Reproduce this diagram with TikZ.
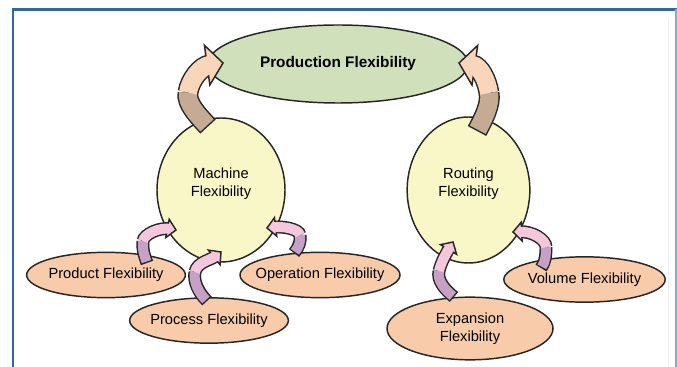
\documentclass[tikz,border=0pt]{standalone}
\usepackage{fontspec}
\setmainfont{Liberation Sans}
\usetikzlibrary{shapes.geometric,calc,decorations.markings}
\definecolor{FrameBlue}{HTML}{3566A6}
\definecolor{FrameLight}{HTML}{86AAD8}
\definecolor{GoalGreen}{HTML}{CFE0BA}
\definecolor{HubYellow}{HTML}{F9F7C7}
\definecolor{LeafPeach}{HTML}{F8CBAA}
\definecolor{ArrowTan}{HTML}{C6AB94}
\definecolor{ArrowPeach}{HTML}{F9D6BA}
\definecolor{ArrowMauve}{HTML}{C7A0C6}
\definecolor{ArrowPink}{HTML}{F4C7DD}

\tikzset{
  goal/.style={ellipse, draw=black!85, line width=1.1pt, fill=GoalGreen, inner sep=0pt,
    minimum width=195pt, minimum height=58.5pt, font=\fontsize{11.5}{14}\selectfont\bfseries},
  hub/.style={ellipse, draw=black!85, line width=1.1pt, fill=HubYellow, inner sep=0pt,
    minimum width=96pt, minimum height=108pt},
  hubtext/.style={align=center, yshift=5pt, font=\fontsize{11}{13.5}\selectfont},
  leaf/.style={ellipse, draw=black!85, line width=1.1pt, fill=LeafPeach, inner xsep=-20pt,
    inner ysep=0pt, minimum width=119pt, minimum height=34pt, align=center,
    font=\fontsize{11}{13.5}\selectfont},
  % shafts of the bent block arrows
  big rim/.style={line width=15.7pt, draw=black!85},
  big body/.style={line width=13.5pt},
  big end/.style={shorten >=10pt},
  small rim/.style={line width=9.7pt, draw=black!85},
  small body/.style={line width=7.5pt},
  small end/.style={shorten >=4.5pt}
}

% heads, drawn in the local frame at the tip
\newcommand{\headbig}[1]{\draw[line width=1.1pt, draw=black!85, fill=#1, line join=miter]
  (0,0) -- (-12pt,15pt) -- (-12pt,-15pt) -- cycle;}
\newcommand{\headsmall}[1]{\draw[line width=1.1pt, draw=black!85, fill=#1, line join=miter]
  (0,0) -- (-6.5pt,7pt) -- (-6.5pt,-7pt) -- cycle;}

% #1 big/small, #2 lower colour, #3 upper colour, #4 lower part, #5 upper part
\newcommand{\bentarrow}[5]{%
  \draw[#1 rim, #1 end] #4 #5;
  \draw[#1 body, draw=#2, shorten <=1.1pt] #4;
  \path[decorate, decoration={markings,
    mark=at position 1 with {\csname head#1\endcsname{#3}}}] #5;
  \draw[#1 body, #1 end, draw=#3] #5;
}

\begin{document}
\begin{tikzpicture}[x=0.75pt, y=0.75pt]
    \useasboundingbox (0,0) rectangle (677,367);

    % frame
    \draw[black!7, line width=0.6pt] (668,0) -- (668,349);
    \draw[FrameBlue, line width=1.6pt] (13,0) -- (13,357.5) -- (677,357.5);
    \draw[FrameLight, line width=1.6pt] (676,0) -- (676,357.5);

    \node[goal] (prodflex) at (338,303) {Production Flexibility};
    \node[hub, label={[hubtext]center:{Machine\\Flexibility}}] (mach) at (221,177) {};
    \node[hub, minimum width=92pt, minimum height=109.5pt,
      label={[hubtext]center:{Routing\\Flexibility}}] (rout) at (468.5,177) {};
    \node[leaf] (prod) at (106,92) {Product Flexibility};
    \node[leaf] (proc) at (209,46.5) {Process Flexibility};
    \node[leaf, minimum width=120pt] (oper) at (320,92) {Operation Flexibility};
    \node[leaf, minimum width=121pt] (vol) at (584.5,87.5) {Volume Flexibility};
    \node[leaf, minimum width=124.5pt, minimum height=47pt] (expa) at (470,38.5) {Expansion\\Flexibility};

    % hubs feed the goal
    \bentarrow{big}{ArrowTan}{ArrowPeach}
      {($(mach)+(-13,63.5)$) .. controls +(-10,11) and +(-2,-11) .. ($(mach)+(-33,97.5)$)}
      {($(mach)+(-33,97.5)$) .. controls +(2,13) and +(-22,-3) .. ($(prodflex)+(-115,1)$)}
    \bentarrow{big}{ArrowTan}{ArrowPeach}
      {($(rout)+(8.5,59)$) .. controls +(7,13) and +(2,-11) .. ($(rout)+(20.5,97)$)}
      {($(rout)+(20.5,97)$) .. controls +(-2,13) and +(21,-3) .. ($(prodflex)+(121,1)$)}

    % leaves feed the hubs
    \bentarrow{small}{ArrowMauve}{ArrowPink}
      {($(prod)+(41,12)$) .. controls +(-3,8) and +(-1,-7) .. ($(prod)+(37,34)$)}
      {($(prod)+(37,34)$) .. controls +(1,7) and +(-16,3) .. ($(mach)+(-45,-40)$)}
    \bentarrow{small}{ArrowMauve}{ArrowPink}
      {($(proc)+(-2,19.5)$) .. controls +(-8,8) and +(-2,-10) .. ($(proc)+(-14,48.5)$)}
      {($(proc)+(-14,48.5)$) .. controls +(2,10) and +(-10,-8) .. ($(mach)+(0,-62)$)}
    \bentarrow{small}{ArrowMauve}{ArrowPink}
      {($(oper)+(-26,22)$) .. controls +(5,6) and +(1,-6) .. ($(oper)+(-20,40)$)}
      {($(oper)+(-20,40)$) .. controls +(-1,6) and +(16,2) .. ($(mach)+(46,-38)$)}
    \bentarrow{small}{ArrowMauve}{ArrowPink}
      {($(expa)+(-16,31.5)$) .. controls +(-10,8) and +(-2,-9) .. ($(expa)+(-31,57.5)$)}
      {($(expa)+(-31,57.5)$) .. controls +(2,9) and +(-6,-10) .. ($(rout)+(-15.5,-52)$)}
    \bentarrow{small}{ArrowMauve}{ArrowPink}
      {($(vol)+(-43.5,11.5)$) .. controls +(5,7) and +(0,-6) .. ($(vol)+(-38.5,32.5)$)}
      {($(vol)+(-38.5,32.5)$) .. controls +(0,7) and +(20,1) .. ($(rout)+(44.5,-42)$)}
\end{tikzpicture}
\end{document}
